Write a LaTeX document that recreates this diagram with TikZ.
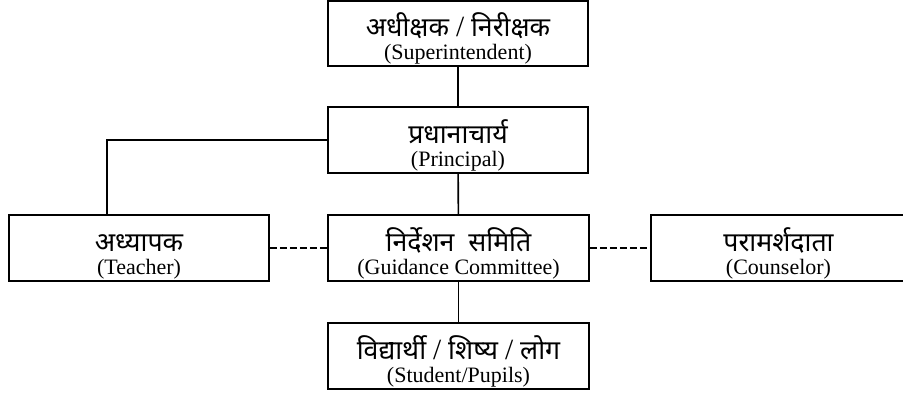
\documentclass[tikz,border=0pt]{standalone}
\usepackage{fontspec}
\setmainfont{Liberation Serif}
\newfontfamily\hindi[Script=Devanagari]{Noto Sans}

\tikzset{every picture/.style={line width=1.2pt}}
\tikzset{
  orgbox/.style={draw, rectangle, inner sep=0pt, minimum height=66*0.75pt, align=center,
    font={\fontsize{16.5pt}{17.25pt}\selectfont\lineskiplimit=-100pt}},
  dashlink/.style={line width=1.8pt, dash pattern=on 5.25pt off 2.25pt}
}
% Devanagari line on top, English line below
\newcommand{\boxtext}[2]{\rule{0pt}{26.5pt}{\hindi\fontsize{20pt}{20pt}\selectfont #1}\\#2\rule[-4.75pt]{0pt}{4.75pt}}
\newcommand{\slsh}{{\rmfamily\fontsize{22pt}{22pt}\selectfont /}}

\begin{document}
\begin{tikzpicture}[x=0.75pt,y=0.75pt,yscale=-1,xscale=1]
	\useasboundingbox (0,0) rectangle (903,393);
	
	% Boxes
	\node [orgbox, minimum width=260*0.75pt, minimum height=63*0.75pt] (super) at (458,33.5) {\boxtext{अधीक्षक \slsh{} निरीक्षक}{(Superintendent)}};
	\node [orgbox, minimum width=260*0.75pt] (principal) at (458,140) {\boxtext{प्रधानाचार्य}{(Principal)}};
	\node [orgbox, minimum width=260*0.75pt] (teacher) at (139,248) {\boxtext{अध्यापक}{(Teacher)}};
	\node [orgbox, minimum width=261*0.75pt] (guidance) at (458.5,248) {\boxtext{निर्देशन \ समिति}{(Guidance Committee)}};
	\node [orgbox, minimum width=255*0.75pt] (counselor) at (778.5,248) {\boxtext{परामर्शदाता}{(Counselor)}};
	\node [orgbox, minimum width=261*0.75pt] (student) at (458.5,356) {\boxtext{विद्यार्थी \slsh{} शिष्य \slsh{} लोग}{(Student/Pupils)}};
	
	% Connectors
	\draw (super) -- (principal);
	\draw (principal) -- (guidance);
	\draw (guidance) -- (student);
	\draw (principal.west) -| ([xshift=-24pt]teacher.north);
	\draw [dashlink] (teacher) -- (guidance);
	\draw [dashlink] (guidance) -- (counselor);
	
\end{tikzpicture}
\end{document}
